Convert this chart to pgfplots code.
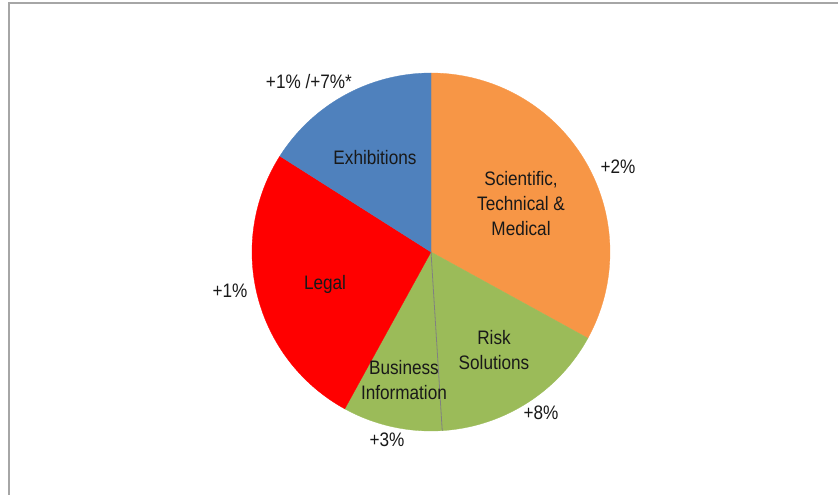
\documentclass[border=0pt]{standalone}
\usepackage{pgfplots}
\pgfplotsset{compat=1.18}
\usepackage{fontspec}
\setmainfont{Liberation Sans}[FakeStretch=0.88]

\definecolor{stm}{HTML}{F79646}
\definecolor{risk}{HTML}{9BBB59}
\definecolor{legal}{HTML}{FF0000}
\definecolor{exhib}{HTML}{4F81BD}
\definecolor{frame}{HTML}{A6A6A6}

% revenue shares (per cent), clockwise from 12 o'clock
\def\sSTM{33}
\def\sRisk{16}
\def\sBI{9}
\def\sLegal{26}
\def\sExhib{16}

\tikzset{lab/.style={font=\fontsize{19.5bp}{25bp}\selectfont, align=center, inner sep=0pt, text=black!90}}

\begin{document}
\begin{tikzpicture}
\useasboundingbox (0bp,0bp) rectangle (838bp,495bp);
\draw[frame, line width=2bp] (8.5bp,-20bp) rectangle (860bp,492bp);

\pgfmathsetmacro\aA{90}
\pgfmathsetmacro\aB{\aA-3.6*\sSTM}
\pgfmathsetmacro\aC{\aB-3.6*\sRisk}
\pgfmathsetmacro\aD{\aC-3.6*\sBI}
\pgfmathsetmacro\aE{\aD-3.6*\sLegal}
\pgfmathsetmacro\aF{\aE-3.6*\sExhib}

\newcommand\slice[3]{%
  \addplot[fill=#1, draw=#1, line width=0.3bp, domain=#3:#2, samples=90, variable=\t]
    ({cos(\t)},{sin(\t)}) -- (axis cs:0,0) -- cycle;}

\begin{axis}[
  at={(431bp,243bp)}, anchor=center,
  scale only axis, width=358bp, height=358bp,
  xmin=-1, xmax=1, ymin=-1, ymax=1,
  hide axis, clip=false,
]
\slice{stm}{\aA}{\aB}
\slice{risk}{\aB}{\aC}
\slice{risk}{\aC}{\aD}
\slice{legal}{\aD}{\aE}
\slice{exhib}{\aE}{\aF}
% divider between the two green segments
\addplot[gray, line width=0.8bp, domain=0:1, samples=2, variable=\t]
  ({\t*cos(\aC)},{\t*sin(\aC)});

% segment names
\node[lab] at (axis cs:-0.313,0.525) {Exhibitions};
\node[lab] at (axis cs:0.503,0.268) {Scientific,\\Technical \&\\Medical};
\node[lab] at (axis cs:-0.592,-0.184) {Legal};
\node[lab] at (axis cs:0.352,-0.547) {Risk\\Solutions};
\node[lab] at (axis cs:-0.151,-0.715) {Business\\Information};

% growth rates
\node[lab] at (axis cs:-0.682,0.955) {+1\% /+7\%*};
\node[lab] at (axis cs:1.045,0.475) {+2\%};
\node[lab] at (axis cs:-1.123,-0.218) {+1\%};
\node[lab] at (axis cs:0.615,-0.899) {+8\%};
\node[lab] at (axis cs:-0.246,-1.050) {+3\%};
\end{axis}
\end{tikzpicture}
\end{document}
